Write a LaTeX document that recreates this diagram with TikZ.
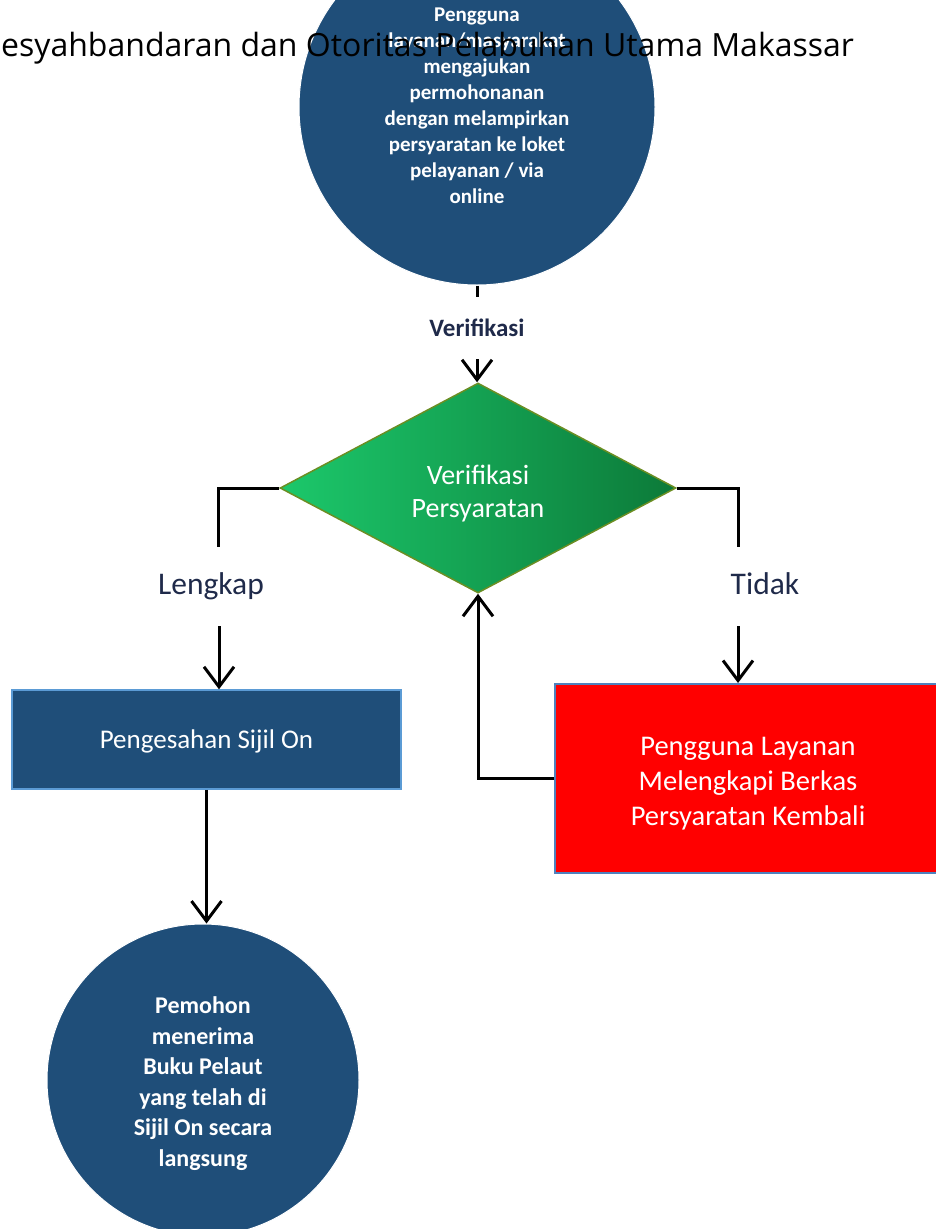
\documentclass[tikz,border=0pt]{standalone}
\usepackage{fontspec}
\setmainfont{Carlito}
\newfontfamily\titlefont{Open Sans}
\usetikzlibrary{shapes.geometric,arrows.meta}
\definecolor{navy}{HTML}{1F4E79}
\definecolor{navyedge}{HTML}{5B9BD5}
\definecolor{redfill}{HTML}{FF0000}
\definecolor{rededge}{HTML}{4F81BD}
\definecolor{gleft}{HTML}{1CC86B}
\definecolor{gmid}{HTML}{15B058}
\definecolor{gright}{HTML}{0C7A39}
\definecolor{gedge}{HTML}{6B8E23}
\definecolor{labcol}{HTML}{1F2A4A}
\newcommand{\lowered}[2]{\raisebox{-#1}[\height][\depth]{\begin{tabular}{@{}c@{}}#2\end{tabular}}}
\tikzset{
  conn/.style={line width=3pt, draw=black},
  arr/.style={conn, -{Straight Barb[length=20pt,width=30pt]}},
  bluecircle/.style={circle, fill=navy, draw=white, line width=1pt, text=white, inner sep=0pt},
  flowlabel/.style={text=labcol, inner sep=0pt, font=\fontsize{31.5}{37}\selectfont},
}
\begin{document}
\begin{tikzpicture}[x=1pt,y=-1pt]
\useasboundingbox (0,0) rectangle (936,1229);
\clip (0,0) rectangle (936,1229);

% top circle
\node[bluecircle, minimum size=356pt, font=\bfseries\fontsize{21}{26}\selectfont] (c1) at (477,107)
  {\lowered{0pt}{Pengguna\\layanan/masyarakat\\mengajukan\\permohonanan\\dengan melampirkan\\persyaratan ke loket\\pelayanan / via\\online}};

% title text (overlapping)
\node[anchor=base west, inner sep=0pt, font=\titlefont\fontsize{32}{40}\selectfont] (title) at (1,56)
  {esyahbandaran dan Otoritas Pelabuhan Utama Makassar};

% verifikasi label
\node[inner sep=0pt, minimum height=62pt, text=labcol, font=\bfseries\fontsize{25}{29}\selectfont] (verlab) at (477,328) {Verifikasi};

% diamond
\node[diamond, inner sep=0pt, minimum width=396pt, minimum height=210pt,
      left color=gleft, middle color=gmid, right color=gright, draw=gedge, line width=1.5pt,
      text=white, font=\fontsize{28}{33}\selectfont] (dia) at (478,488)
  {\lowered{6pt}{Verifikasi\\Persyaratan}};

% labels
\node[flowlabel, anchor=base] (lengkap) at (211,594) {Lengkap};
\node[flowlabel, anchor=base] (tidak) at (765,594) {Tidak};

% rectangles
\node[rectangle, fill=navy, draw=navyedge, line width=1.5pt, minimum width=389pt, minimum height=99pt,
      text=white, font=\fontsize{27}{33}\selectfont] (r1) at (206.5,739.5) {\lowered{2pt}{Pengesahan Sijil On}};
\node[rectangle, fill=redfill, draw=rededge, line width=2pt, minimum width=386pt, minimum height=189pt,
      text=white, font=\fontsize{28.5}{35}\selectfont] (r2) at (748,778.5)
  {\lowered{5pt}{Pengguna Layanan\\Melengkapi Berkas\\Persyaratan Kembali}};

% bottom circle
\node[bluecircle, minimum size=312pt, font=\bfseries\fontsize{24}{30.5}\selectfont] (c2) at (203,1080)
  {\lowered{4pt}{Pemohon\\menerima\\Buku Pelaut\\yang telah di\\Sijil On secara\\langsung}};

% coordinates for free ends
\coordinate (lA) at (218,547);
\coordinate (rA) at (738,547);
\coordinate (lB) at (219,626);
\coordinate (rB) at (738,626);

% connectors
\draw[conn] (c1.south) -- (c1.south |- verlab.north);
\draw[arr] (verlab.south) -- (verlab.south |- dia.north);
\draw[conn] (dia.west) -| (lA);
\draw[conn] (dia.east) -| (rA);
\draw[arr] (lB) -- (lB |- r1.north);
\draw[arr] (rB) -- (rB |- r2.north);
\draw[arr] (r2.west) -| (dia.south);
\draw[arr] (r1.south) -- (r1.south |- c2.north);
\end{tikzpicture}
\end{document}
